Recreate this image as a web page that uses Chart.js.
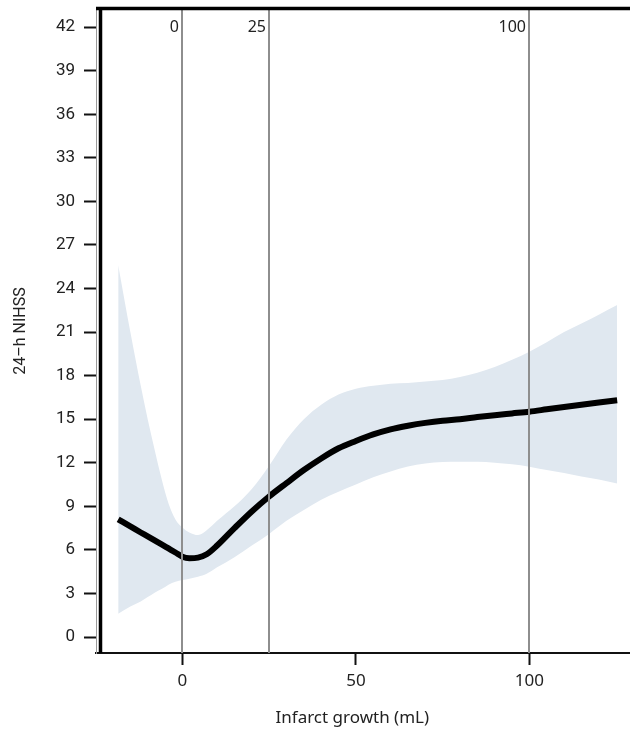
<!DOCTYPE html>
<html>
<head>
<meta charset="utf-8">
<script src="https://cdn.jsdelivr.net/npm/chart.js@4.4.1/dist/chart.umd.min.js"></script>
<style>
  html, body { margin: 0; padding: 0; background: #fff; }
  #wrap { width: 630px; height: 733px; position: relative; }
</style>
</head>
<body>
<div id="wrap"><canvas id="nihssChart"></canvas></div>
<script>
// Dane (przyrost zawału vs NIHSS po 24 h)
const growth = [-18.5, -15, -12, -10, -8, -6, -4, -2, 0, 2, 4.5, 7, 10, 15, 20, 25, 30, 35, 40, 45, 50,
                55, 60, 65, 70, 75, 80, 85, 90, 95, 100, 105, 110, 115, 120, 125.3];
const fitted = [8.1, 7.62, 7.2, 6.93, 6.65, 6.38, 6.1, 5.82, 5.53, 5.43, 5.47, 5.7, 6.3, 7.5, 8.65, 9.68, 10.6,
                11.5, 12.3, 13.0, 13.5, 13.95, 14.3, 14.55, 14.75, 14.9, 15.0, 15.15, 15.28, 15.4, 15.52,
                15.68, 15.84, 16.0, 16.15, 16.3];
const upperCI = [25.6, 21.0, 17.3, 15.0, 12.9, 10.9, 9.2, 8.1, 7.55, 7.2, 7.02, 7.35, 8.0, 9.0, 10.2, 11.8, 13.6,
                 15.0, 16.0, 16.7, 17.1, 17.3, 17.45, 17.5, 17.6, 17.7, 17.9, 18.2, 18.6, 19.1, 19.65,
                 20.3, 21.0, 21.6, 22.2, 22.86];
const lowerCI = [1.6, 2.1, 2.45, 2.75, 3.05, 3.3, 3.6, 3.8, 3.93, 4.02, 4.15, 4.35, 4.8, 5.5, 6.3, 7.1, 8.0,
                 8.75, 9.45, 10.0, 10.5, 11.0, 11.4, 11.75, 11.95, 12.05, 12.07, 12.07, 12.0, 11.9, 11.73,
                 11.5, 11.3, 11.05, 10.85, 10.58];

const xTicks = [0, 50, 100];
const yTicks = [0, 3, 6, 9, 12, 15, 18, 21, 24, 27, 30, 33, 36, 39, 42];
const refLines = [0, 25, 100];
const refLabels = ['0', '25', '100'];
const xTitle = 'Infarct growth (mL)';

function toPoints(values) {
    return growth.map((g, i) => ({ x: g, y: values[i] }));
}

// Pionowe linie odniesienia z podpisami, gruba ramka i podpis osi x
const refLinePlugin = {
    id: 'refLines',
    afterDatasetsDraw(chart) {
        const { ctx, chartArea, scales } = chart;
        const x = scales.x;
        ctx.save();
        ctx.strokeStyle = '#8e8e8e';
        ctx.lineWidth = 2;
        ctx.fillStyle = '#222';
        ctx.font = '16px "Noto Sans"';
        ctx.textAlign = 'right';
        ctx.textBaseline = 'middle';
        refLines.forEach((v, i) => {
            const px = Math.round(x.getPixelForValue(v));
            ctx.beginPath();
            ctx.moveTo(px, chartArea.top);
            ctx.lineTo(px, chartArea.bottom);
            ctx.stroke();
            ctx.fillText(refLabels[i], px - 3, chartArea.top + 18);
        });

        ctx.strokeStyle = '#000';
        ctx.lineWidth = 3.5;
        ctx.beginPath();
        ctx.moveTo(chartArea.left, chartArea.top - 0.5);
        ctx.lineTo(chartArea.right, chartArea.top - 0.5);
        ctx.stroke();
        ctx.beginPath();
        ctx.moveTo(chartArea.left + 4.5, chartArea.top - 2);
        ctx.lineTo(chartArea.left + 4.5, chartArea.bottom);
        ctx.stroke();

        // podpis osi x – w oryginale lekko przesunięty w lewo od środka
        ctx.font = '17px "Noto Sans"';
        ctx.textAlign = 'center';
        ctx.fillText(xTitle, chartArea.left + (chartArea.right - chartArea.left) * 0.48, x.bottom - 15);
        ctx.restore();
    }
};

window.onload = function () {
    const ctx = document.getElementById('nihssChart').getContext('2d');
    new Chart(ctx, {
        type: 'line',
        data: {
            datasets: [
                {
                    label: 'Fitted',
                    data: toPoints(fitted),
                    borderColor: '#000',
                    borderWidth: 6,
                    borderCapStyle: 'butt',
                    pointRadius: 0,
                    cubicInterpolationMode: 'monotone',
                    fill: false
                },
                {
                    label: 'Upper',
                    data: toPoints(upperCI),
                    borderWidth: 0,
                    pointRadius: 0,
                    cubicInterpolationMode: 'monotone',
                    backgroundColor: 'rgb(224, 232, 240)',
                    fill: '+1'
                },
                {
                    label: 'Lower',
                    data: toPoints(lowerCI),
                    borderWidth: 0,
                    pointRadius: 0,
                    cubicInterpolationMode: 'monotone',
                    fill: false
                }
            ]
        },
        options: {
            responsive: true,
            maintainAspectRatio: false,
            animation: false,
            layout: { padding: { top: 9, right: 0, left: 0, bottom: 0 } },
            plugins: {
                legend: { display: false },
                tooltip: { enabled: false }
            },
            scales: {
                x: {
                    type: 'linear',
                    min: -24.9,
                    max: 129,
                    afterFit: function (scale) {
                        scale.height = 80;
                        scale.paddingLeft = 0;
                        scale.paddingRight = 0;
                    },
                    afterBuildTicks: function (scale) {
                        scale.ticks = xTicks.map(v => ({ value: v }));
                    },
                    grid: {
                        drawOnChartArea: false,
                        drawTicks: true,
                        tickLength: 12,
                        tickWidth: 2,
                        tickColor: '#111'
                    },
                    border: { display: true, color: '#111', width: 2 },
                    ticks: {
                        color: '#222',
                        padding: 6,
                        maxRotation: 0,
                        font: { family: '"Noto Sans"', size: 17 }
                    },
                    title: { display: false }
                },
                y: {
                    type: 'linear',
                    min: -1.1,
                    max: 43.25,
                    afterFit: function (scale) {
                        scale.width = 96;
                        scale.paddingTop = 0;
                        scale.paddingBottom = 0;
                    },
                    afterBuildTicks: function (scale) {
                        scale.ticks = yTicks.map(v => ({ value: v }));
                    },
                    grid: {
                        drawOnChartArea: false,
                        drawTicks: true,
                        tickLength: 12,
                        tickWidth: 2,
                        tickColor: '#111'
                    },
                    border: { display: true, color: '#9a9a9a', width: 1 },
                    ticks: {
                        color: '#222',
                        padding: 9,
                        font: { family: 'Roboto', size: 17 }
                    },
                    title: {
                        display: true,
                        text: '24–h NIHSS',
                        color: '#222',
                        font: { family: 'Roboto', size: 16 },
                        padding: { top: 11, bottom: 0 }
                    }
                }
            }
        },
        plugins: [refLinePlugin]
    });
};
</script>
</body>
</html>
